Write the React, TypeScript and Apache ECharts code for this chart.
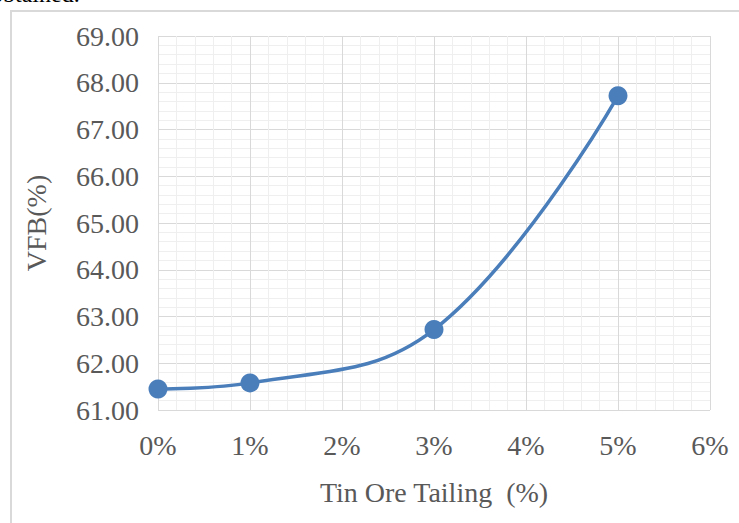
import React, { useEffect, useRef } from "react";
import * as echarts from "echarts";

const tailingPct = [0, 1, 3, 5];
const vfbValues = [61.45, 61.58, 62.72, 67.72];
const xTicks = [0, 1, 2, 3, 4, 5, 6];
const yMin = 61;
const yMax = 69;

const FONT = "'Liberation Serif', 'Times New Roman', serif";

export default function App() {
  const ref = useRef<HTMLDivElement>(null);
  useEffect(() => {
    if (!ref.current) return;
    const chart = echarts.init(ref.current, null, { renderer: "svg" });
    chart.setOption({
      animation: false,
      backgroundColor: "#ffffff",
      graphic: [
        {
          type: "rect",
          shape: { x: 11, y: 11, width: 760, height: 560 },
          style: { fill: "none", stroke: "#d9d9d9", lineWidth: 2 },
          silent: true,
        },
        {
          type: "text",
          left: -9,
          top: -18,
          style: { text: "obtained.", font: `24px ${FONT}`, fill: "#000" },
          silent: true,
        },
      ],
      grid: { left: 158, right: 29, top: 36, bottom: 113 },
      xAxis: {
        type: "value",
        min: xTicks[0],
        max: xTicks[xTicks.length - 1],
        interval: 1,
        name: "Tin Ore Tailing  (%)",
        nameLocation: "middle",
        nameGap: 68,
        nameTextStyle: { fontFamily: FONT, fontSize: 28, color: "#595959" },
        axisLine: { show: false },
        axisTick: { show: false },
        axisLabel: {
          formatter: (v: number) => `${v}%`,
          fontFamily: FONT,
          fontSize: 28,
          color: "#595959",
          margin: 21,
        },
        splitLine: { show: true, lineStyle: { color: "#d9d9d9", width: 1 } },
        minorTick: { show: false, splitNumber: 5 },
        minorSplitLine: { show: true, lineStyle: { color: "#efefef", width: 1 } },
      },
      yAxis: {
        type: "value",
        min: yMin,
        max: yMax,
        interval: 1,
        name: "VFB(%)",
        nameLocation: "middle",
        nameGap: 108,
        nameRotate: 90,
        nameTextStyle: { fontFamily: FONT, fontSize: 28, color: "#595959" },
        axisLine: { show: false },
        axisTick: { show: false },
        axisLabel: {
          formatter: (v: number) => v.toFixed(2),
          fontFamily: FONT,
          fontSize: 28,
          color: "#595959",
          margin: 19,
        },
        splitLine: { show: true, lineStyle: { color: "#d9d9d9", width: 1 } },
        minorTick: { show: false, splitNumber: 5 },
        minorSplitLine: { show: true, lineStyle: { color: "#efefef", width: 1 } },
      },
      series: [
        {
          type: "line",
          data: tailingPct.map((x, i) => [x, vfbValues[i]]),
          smooth: 0.4,
          symbol: "circle",
          symbolSize: 19,
          lineStyle: { color: "#4a7ebb", width: 3.5 },
          itemStyle: { color: "#4a7ebb" },
        },
      ],
    });
    return () => chart.dispose();
  }, []);
  return (
    <div
      ref={ref}
      style={{ position: "fixed", left: 0, top: 0, width: 739, height: 523 }}
    />
  );
}
